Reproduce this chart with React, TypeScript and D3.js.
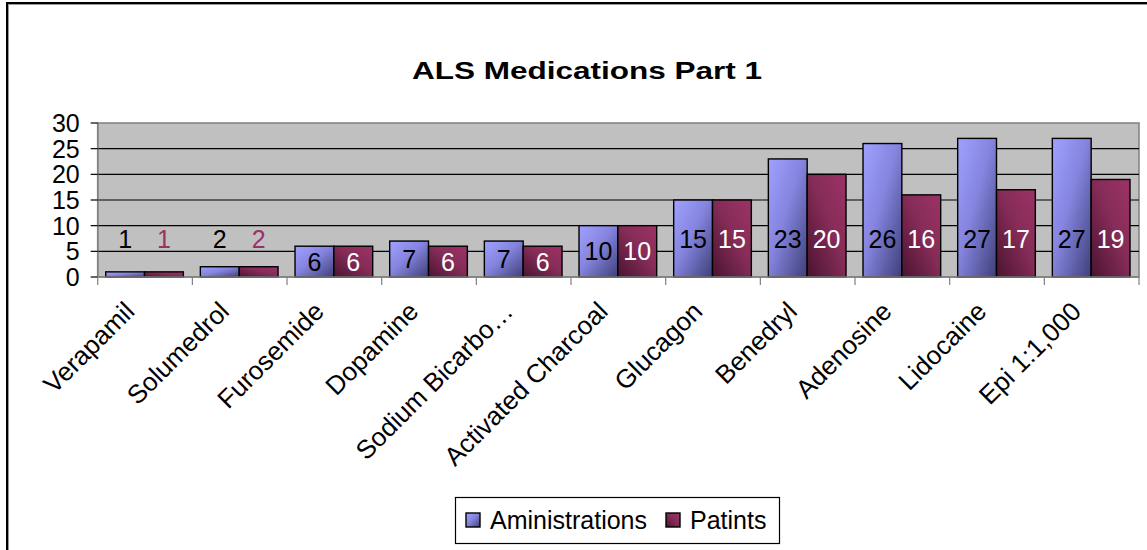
import React from "react";
import * as d3 from "d3";

const categories = [
  "Verapamil",
  "Solumedrol",
  "Furosemide",
  "Dopamine",
  "Sodium Bicarbo…",
  "Activated Charcoal",
  "Glucagon",
  "Benedryl",
  "Adenosine",
  "Lidocaine",
  "Epi 1:1,000",
];
const administrations = [1, 2, 6, 7, 7, 10, 15, 23, 26, 27, 27];
const patients = [1, 2, 6, 6, 6, 10, 15, 20, 16, 17, 19];
const seriesNames = ["Aministrations", "Patints"];
const yTicks = [0, 5, 10, 15, 20, 25, 30];

const W = 1147;
const H = 550;
const plot = { left: 97.7, right: 1139, top: 123, bottom: 277 };
const FONT = "'Liberation Sans', Arial, sans-serif";

export default function App() {
  const y = d3.scaleLinear().domain([0, 30]).range([plot.bottom, plot.top]);
  const x0 = d3.scaleBand<string>().domain(categories).range([plot.left, plot.right]).padding(0);
  const bw = x0.bandwidth();
  const x1 = d3.scaleBand<string>().domain(seriesNames).range([8, bw - 9]).padding(0);
  const barW = x1.bandwidth();
  const fills = ["url(#gBlue)", "url(#gRed)"];
  const data = [administrations, patients];

  const labelPos = (v: number) => y(v < 3 ? 7.5 : Math.min(v / 2, 7.5));
  const labelColor = (s: number, v: number) =>
    s === 0 ? "#000" : v < 3 ? "#993366" : "#fff";

  return (
    <svg
      width={W}
      height={H}
      style={{ position: "absolute", left: 0, top: 0, background: "#fff" }}
      fontFamily={FONT}
    >
      <defs>
        <linearGradient id="gBlue" x1="0" y1="0" x2="1" y2="1">
          <stop offset="0%" stopColor="#a0a0ff" />
          <stop offset="45%" stopColor="#8585e0" />
          <stop offset="100%" stopColor="#3f3f78" />
        </linearGradient>
        <linearGradient id="gRed" x1="1" y1="0" x2="0" y2="1">
          <stop offset="0%" stopColor="#9c3366" />
          <stop offset="45%" stopColor="#862c58" />
          <stop offset="100%" stopColor="#4a1430" />
        </linearGradient>
      </defs>
      {/* outer frame */}
      <rect x={8} y={4} width={W + 10} height={H + 10} fill="none" stroke="#999" strokeWidth={2} />
      <rect x={7} y={3} width={W + 10} height={H + 10} fill="none" stroke="#000" strokeWidth={2} />

      {/* title */}
      <text
        transform={`translate(587,79) scale(1.37,1)`}
        textAnchor="middle"
        fontSize={23}
        fontWeight="bold"
      >
        ALS Medications Part 1
      </text>

      {/* plot area */}
      <rect
        x={plot.left}
        y={plot.top}
        width={plot.right - plot.left}
        height={plot.bottom - plot.top}
        fill="#c0c0c0"
        stroke="#808080"
        strokeWidth={1.5}
      />
      {yTicks.filter((t) => t > 0 && t < 30).map((t) => (
        <line key={t} x1={plot.left} x2={plot.right} y1={y(t)} y2={y(t)} stroke="#000" strokeWidth={1.2} />
      ))}
      {/* y axis */}
      <line x1={plot.left} x2={plot.left} y1={plot.top} y2={plot.bottom} stroke="#808080" strokeWidth={1.5} />
      {yTicks.map((t) => (
        <g key={t}>
          <line x1={plot.left - 7} x2={plot.left} y1={y(t)} y2={y(t)} stroke="#000" strokeWidth={1.2} />
          <text x={plot.left - 18} y={y(t)} dy="0.36em" textAnchor="end" fontSize={25}>
            {t}
          </text>
        </g>
      ))}

      {/* bars */}
      {categories.map((c, i) => (
        <g key={c} transform={`translate(${x0(c)},0)`}>
          {seriesNames.map((s, si) => {
            const v = data[si][i];
            return (
              <rect
                key={s}
                x={x1(s)}
                y={y(v)}
                width={barW}
                height={plot.bottom - y(v)}
                fill={fills[si]}
                stroke="#000"
                strokeWidth={1.4}
              />
            );
          })}
          {seriesNames.map((s, si) => {
            const v = data[si][i];
            return (
              <text
                key={s + "l"}
                x={(x1(s) as number) + barW / 2}
                y={labelPos(v)}
                dy="0.36em"
                textAnchor="middle"
                fontSize={25}
                fill={labelColor(si, v)}
              >
                {v}
              </text>
            );
          })}
        </g>
      ))}

      {/* x axis */}
      <line x1={plot.left} x2={plot.right} y1={plot.bottom} y2={plot.bottom} stroke="#808080" strokeWidth={1.5} />
      {d3.range(categories.length + 1).map((k) => {
        const xx = plot.left + k * bw;
        return <line key={k} x1={xx} x2={xx} y1={plot.bottom} y2={plot.bottom + 8} stroke="#808080" strokeWidth={1.2} />;
      })}
      {categories.map((c) => {
        const cx = (x0(c) as number) + bw / 2;
        return (
          <text
            key={c}
            transform={`translate(${cx - 9},${plot.bottom + 36}) rotate(-45)`}
            textAnchor="end"
            fontSize={26}
          >
            {c}
          </text>
        );
      })}

      {/* legend */}
      <rect x={455.5} y={497.5} width={324} height={46} fill="#fff" stroke="#000" strokeWidth={1.2} />
      {seriesNames.map((s, si) => {
        const lx = si === 0 ? 466 : 666;
        return (
          <g key={s}>
            <rect x={lx} y={513} width={14} height={14} fill={fills[si]} stroke="#000" strokeWidth={1.4} />
            <text x={lx + 24} y={520} dy="0.36em" fontSize={25}>
              {s}
            </text>
          </g>
        );
      })}
    </svg>
  );
}
